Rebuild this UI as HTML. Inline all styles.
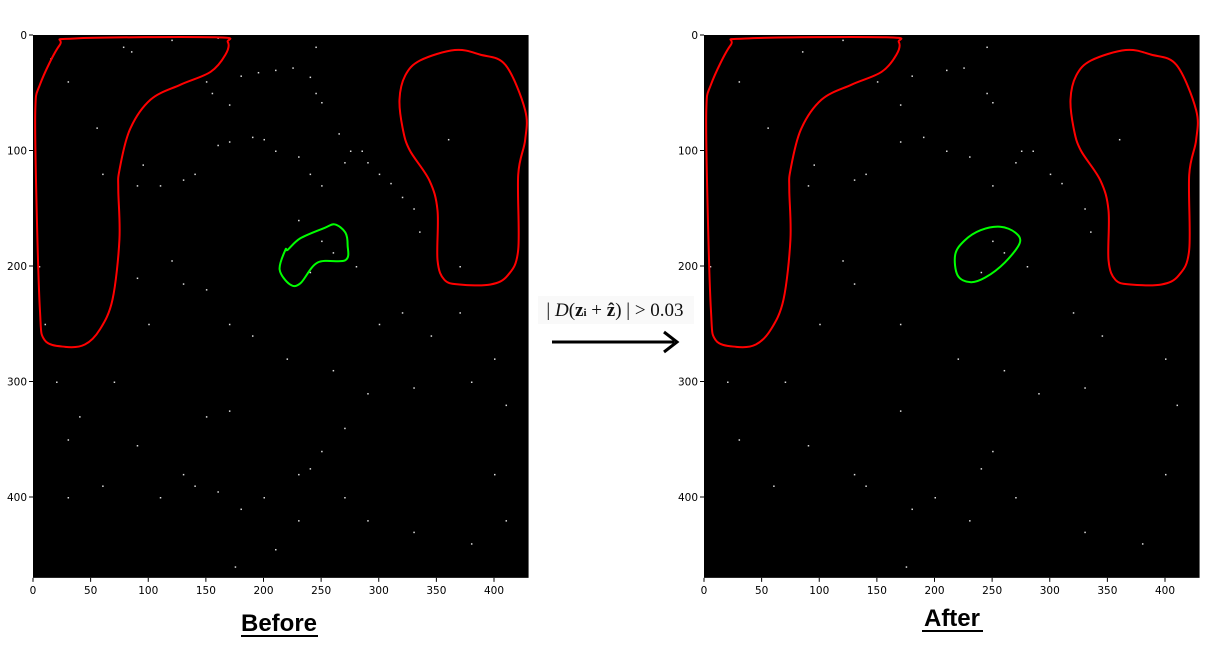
<!DOCTYPE html>
<html><head><meta charset="utf-8"><style>
body{margin:0;background:#fff;width:1207px;height:670px;overflow:hidden}
svg{display:block;font-family:"DejaVu Sans","Liberation Sans",sans-serif}
</style></head><body>
<svg id="s" width="1207" height="670">
<g id="p1"></g>
<g id="p2"></g>
<rect x="538" y="296" width="156" height="28" fill="#f9f9f9"/>
<text x="615" y="316" text-anchor="middle" font-family="'Liberation Serif',serif" font-size="19" fill="#111">| <tspan font-style="italic">D</tspan>(<tspan font-weight="bold">z</tspan><tspan font-size="11" font-weight="bold">i</tspan> + <tspan font-weight="bold">ẑ</tspan>) | &gt; 0.03</text>
<line x1="552" y1="342" x2="674" y2="342" stroke="#000" stroke-width="3"/>
<polyline points="664,332 677,342 664,352" fill="none" stroke="#000" stroke-width="3"/>
<text x="279" y="631" text-anchor="middle" font-family="'Liberation Sans',sans-serif" font-weight="bold" font-size="24">Before</text>
<line x1="241" y1="636" x2="318" y2="636" stroke="#000" stroke-width="2"/>
<text x="952" y="626" text-anchor="middle" font-family="'Liberation Sans',sans-serif" font-weight="bold" font-size="24">After</text>
<line x1="922" y1="631" x2="983" y2="631" stroke="#000" stroke-width="2"/>
</svg>
<script>
const xTicks=[0,50,100,150,200,250,300,350,400];
const yTicks=[0,100,200,300,400];
const redA=[[23,9],[36,3],[158,2],[169,6],[167,17],[154,32],[128,43],[102,56],[84,82],[75,117],[74,134],[75,177],[69,229],[58,255],[45,268],[28,270],[10,264],[6,238],[3,143],[2,65],[6,43]];
const redB=[[318,56],[323,35],[336,22],[366,13],[388,17],[410,26],[427,65],[427,91],[421,121],[421,186],[412,208],[397,216],[370,216],[357,212],[351,195],[351,152],[344,126],[327,100],[321,82]];
const greenBefore=[[219,186],[214,203],[223,216],[232,215],[247,197],[271,195],[273,182],[271,171],[262,164],[253,167],[232,176],[221,186]];
const greenAfter=[[218,190],[220,208],[231,214],[244,210],[261,197],[274,180],[270,171],[257,166],[240,169],[226,178]];
const dots=[[78,10],[85,14],[120,4],[160,2],[245,10],[150,40],[155,50],[170,60],[180,35],[195,32],[210,30],[225,28],[240,36],[245,50],[250,58],[265,85],[275,100],[285,100],[290,110],[300,120],[310,128],[320,140],[330,150],[335,170],[15,20],[30,40],[55,80],[60,120],[90,130],[95,112],[110,130],[130,125],[140,120],[160,95],[170,92],[190,88],[200,90],[210,100],[230,105],[240,120],[250,130],[270,110],[230,160],[250,178],[260,188],[150,220],[130,215],[120,195],[90,210],[100,250],[170,250],[190,260],[220,280],[260,290],[300,250],[320,240],[345,260],[370,240],[400,280],[410,320],[380,300],[330,305],[290,310],[270,340],[250,360],[240,375],[230,380],[200,400],[180,410],[160,395],[140,390],[130,380],[110,400],[90,355],[70,300],[40,330],[30,350],[20,300],[10,250],[5,200],[400,380],[410,420],[380,440],[330,430],[290,420],[270,400],[230,420],[210,445],[175,460],[360,90],[370,200],[280,200],[240,205],[150,330],[170,325],[60,390],[30,400]];
const NS='http://www.w3.org/2000/svg';
function mk(tag,attrs,parent){const e=document.createElementNS(NS,tag);for(const k in attrs)e.setAttribute(k,attrs[k]);parent.appendChild(e);return e;}
function smooth(pts,sx,sy){const n=pts.length;let d=`M${sx(pts[0][0])},${sy(pts[0][1])}`;for(let i=0;i<n;i++){const p0=pts[(i-1+n)%n],p1=pts[i],p2=pts[(i+1)%n],p3=pts[(i+2)%n];const c1x=sx(p1[0])+(sx(p2[0])-sx(p0[0]))/6,c1y=sy(p1[1])+(sy(p2[1])-sy(p0[1]))/6,c2x=sx(p2[0])-(sx(p3[0])-sx(p1[0]))/6,c2y=sy(p2[1])-(sy(p3[1])-sy(p1[1]))/6;d+=`C${c1x},${c1y} ${c2x},${c2y} ${sx(p2[0])},${sy(p2[1])}`;}return d+'Z';}
function panel(g,x0,green,dotSkip){
 const sx=v=>x0+v*1.1525, sy=v=>35+v*1.155;
 const bg=mk('rect',{x:x0,y:35,width:430*1.1525,height:470*1.155,fill:'#000'},g);
 
 
 dots.forEach((d,i)=>{if(dotSkip&&i%3===0)return;const r=mk('rect',{x:sx(d[0]),y:sy(d[1]),width:1.5,height:1.5,fill:'#ddd'},g);
  
  });
 [redA,redB].forEach(c=>{const p=mk('path',{d:smooth(c,sx,sy),fill:'none',stroke:'#f00','stroke-width':2},g);
  
  });
 const gp=mk('path',{d:smooth(green,sx,sy),fill:'none',stroke:'#0f0','stroke-width':2},g);
 
 
 xTicks.forEach(t=>{const X=sx(t);const l=mk('line',{x1:X,x2:X,y1:sy(470),y2:sy(470)+4,stroke:'#000'},g);
  
  
  const tx=mk('text',{x:X,y:sy(470)+16,'text-anchor':'middle','font-size':10.5},g);tx.textContent=t;
  
  });
 yTicks.forEach(t=>{const Y=sy(t);const l=mk('line',{x1:x0-4,x2:x0,y1:Y,y2:Y,stroke:'#000'},g);
  
  
  const tx=mk('text',{x:x0-6,y:Y+4,'text-anchor':'end','font-size':10.5},g);tx.textContent=t;
  
  });
}
panel(document.getElementById('p1'),33,greenBefore,false);
panel(document.getElementById('p2'),704,greenAfter,true);
</script>
</body></html>
